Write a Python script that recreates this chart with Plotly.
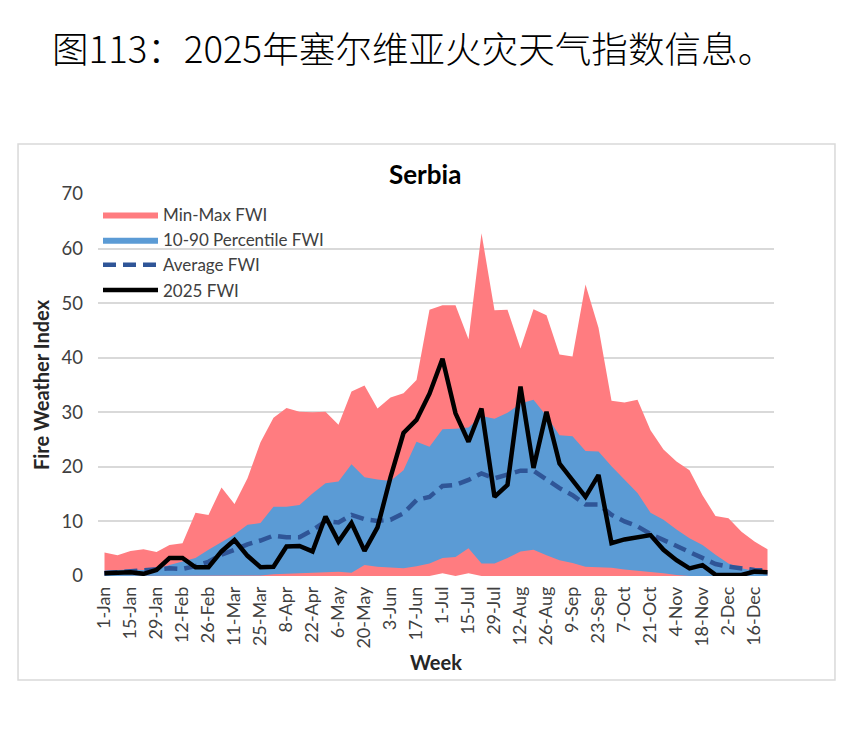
import plotly.graph_objects as go

weeks = ["1-Jan", "8-Jan", "15-Jan", "22-Jan", "29-Jan", "5-Feb", "12-Feb", "19-Feb", "26-Feb",
         "4-Mar", "11-Mar", "18-Mar", "25-Mar", "1-Apr", "8-Apr", "15-Apr", "22-Apr", "29-Apr",
         "6-May", "13-May", "20-May", "27-May", "3-Jun", "10-Jun", "17-Jun", "24-Jun", "1-Jul",
         "8-Jul", "15-Jul", "22-Jul", "29-Jul", "5-Aug", "12-Aug", "19-Aug", "26-Aug", "2-Sep",
         "9-Sep", "16-Sep", "23-Sep", "30-Sep", "7-Oct", "14-Oct", "21-Oct", "28-Oct", "4-Nov",
         "11-Nov", "18-Nov", "25-Nov", "2-Dec", "9-Dec", "16-Dec", "23-Dec"]

max_fwi = [4.3, 3.8, 4.6, 4.9, 4.4, 5.7, 6.0, 11.6, 11.2, 16.2, 13.2, 17.9, 24.5, 29.0, 30.8, 30.1,
           30.0, 30.1, 27.7, 33.8, 34.9, 30.7, 32.7, 33.5, 35.9, 48.8, 49.6, 49.6, 43.4, 62.8, 48.7,
           48.8, 41.7, 48.9, 47.8, 40.6, 40.2, 53.4, 45.5, 32.1, 31.8, 32.3, 26.7, 23.2, 21.0, 19.4,
           14.8, 11.0, 10.6, 8.1, 6.3, 4.9]

min_fwi = [0, 0, 0, 0, 0, 0, 0, 0, 0, 0, 0, 0, 0, 0, 0, 0, 0, 0, 0, 0, 0, 0, 0, 0, 0, 0,
           0.5, 0, 0.5, 0, 0, 0, 0, 0, 0, 0, 0, 0, 0, 0, 0, 0, 0, 0, 0, 0, 0, 0, 0, 0, 0, 0]

p90_fwi = [1.0, 1.1, 1.2, 1.1, 1.2, 2.0, 2.6, 3.3, 4.8, 6.2, 7.6, 9.4, 9.7, 12.7, 12.7, 13.0, 15.1,
           17.0, 17.3, 20.5, 18.1, 17.7, 17.4, 19.4, 24.6, 23.7, 26.9, 27.0, 27.2, 29.3, 28.8, 29.9,
           31.6, 32.3, 29.3, 25.8, 25.6, 22.9, 22.8, 20.1, 17.7, 15.2, 11.6, 10.3, 8.5, 6.9, 5.7,
           3.9, 2.3, 1.4, 0.9, 0.8]

p10_fwi = [0, 0, 0, 0, 0, 0, 0, 0, 0, 0, 0, 0, 0.1, 0.3, 0.4, 0.5, 0.6, 0.8, 0.8, 0.6, 2.0, 1.7,
           1.6, 1.4, 1.8, 2.3, 3.3, 3.5, 5.1, 2.3, 2.3, 3.3, 4.5, 4.8, 3.8, 2.9, 2.4, 1.7, 1.6, 1.5,
           1.2, 1.0, 0.7, 0.5, 0.2, 0, 0, 0, 0, 0, 0, 0]

avg_fwi = [0.5, 0.7, 0.9, 1.0, 1.3, 1.4, 1.3, 1.8, 2.6, 3.9, 4.8, 5.8, 6.5, 7.4, 7.1, 7.1, 8.4,
           10.0, 9.8, 11.2, 10.4, 10.1, 10.3, 11.5, 13.9, 14.5, 16.5, 16.7, 17.6, 18.8, 17.9, 18.5,
           19.3, 19.3, 17.6, 16.1, 14.8, 13.1, 13.1, 11.2, 10.0, 9.1, 7.7, 6.6, 5.4, 4.3, 3.3, 2.2,
           1.7, 1.3, 1.1, 1.0]

fwi_2025 = [0.5, 0.6, 0.7, 0.4, 1.1, 3.3, 3.3, 1.6, 1.6, 4.5, 6.6, 3.7, 1.6, 1.7, 5.4, 5.5, 4.5,
            10.9, 6.3, 9.7, 4.6, 8.9, 18.1, 26.2, 28.6, 33.4, 39.8, 29.8, 24.6, 30.7, 14.5, 16.7,
            34.7, 19.8, 30.1, 20.6, 17.6, 14.5, 18.5, 6.0, 6.7, 7.2, 7.5, 4.8, 2.9, 1.4, 2.0, 0.2,
            0.1, 0.2, 0.8, 0.7]

y_ticks = [0, 10, 20, 30, 40, 50, 60, 70]

FONT = "Lato"
PINK = "#FF7C80"
BLUE = "#5B9BD5"
NAVY = "#2F5597"

fig = go.Figure()
fig.add_trace(go.Scatter(x=weeks, y=min_fwi, mode="lines", line=dict(width=0, color=PINK),
                         showlegend=False, hoverinfo="skip"))
fig.add_trace(go.Scatter(x=weeks, y=max_fwi, mode="lines", line=dict(width=0, color=PINK),
                         fill="tonexty", fillcolor=PINK, name="Min-Max FWI"))
fig.add_trace(go.Scatter(x=weeks, y=p10_fwi, mode="lines", line=dict(width=0, color=BLUE),
                         showlegend=False, hoverinfo="skip"))
fig.add_trace(go.Scatter(x=weeks, y=p90_fwi, mode="lines", line=dict(width=0, color=BLUE),
                         fill="tonexty", fillcolor=BLUE, name="10-90 Percentile FWI"))
fig.add_trace(go.Scatter(x=weeks, y=avg_fwi, mode="lines",
                         line=dict(width=4.5, color=NAVY, dash="13px,7px"), name="Average FWI"))
fig.add_trace(go.Scatter(x=weeks, y=fwi_2025, mode="lines",
                         line=dict(width=4.5, color="#000000"), name="2025 FWI"))

fig.update_layout(
    width=865, height=733,
    margin=dict(l=98, r=91, t=194, b=157),
    paper_bgcolor="white", plot_bgcolor="white",
    font=dict(family=FONT, color="#595959", size=16),
    showlegend=True,
    legend=dict(x=0, y=0.992, xanchor="left", yanchor="top", bgcolor="rgba(0,0,0,0)",
                font=dict(family=FONT, size=17, color="#404040"), itemwidth=55,
                traceorder="normal", tracegroupgap=0),
    xaxis=dict(type="category", range=[-0.5, 51.5], tickmode="array", tickvals=weeks[::2],
               ticktext=weeks[::2], tickangle=-90, tickfont=dict(size=18, color="#404040"),
               ticklabelstandoff=6,
               showgrid=False, showline=False, zeroline=False, ticks="",
               title=dict(text="<b>Week</b>", font=dict(size=20, color="#262626"), standoff=8),
               fixedrange=True),
    yaxis=dict(range=[0, 70], tickmode="array", tickvals=y_ticks, showgrid=True,
               gridcolor="#D9D9D9", gridwidth=1.5, zeroline=False, showline=False,
               tickfont=dict(size=18.5, color="#404040"), ticklabelstandoff=14,
               title=dict(text="<b>Fire Weather Index</b>", font=dict(size=20, color="#262626"),
                          standoff=6),
               fixedrange=True),
    shapes=[dict(type="rect", xref="paper", yref="paper", x0=-0.1183, x1=1.0902,
                 y0=-0.2723, y1=1.1309, line=dict(color="#D9D9D9", width=1.5),
                 fillcolor="rgba(0,0,0,0)", layer="below")],
    annotations=[
        dict(text="图113：2025年塞尔维亚火灾天气指数信息。", xref="paper", yref="paper",
             x=0.4667, y=1.384, xanchor="center", yanchor="middle", showarrow=False,
             font=dict(family="Noto Sans CJK SC", size=36.6, color="#000000", weight=300)),
        dict(text="<b>Serbia</b>", xref="paper", yref="paper", x=0.4837, y=1.052,
             xanchor="center", yanchor="middle", showarrow=False,
             font=dict(family=FONT, size=26, color="#000000")),
    ],
)

fig.write_html("out.html")
